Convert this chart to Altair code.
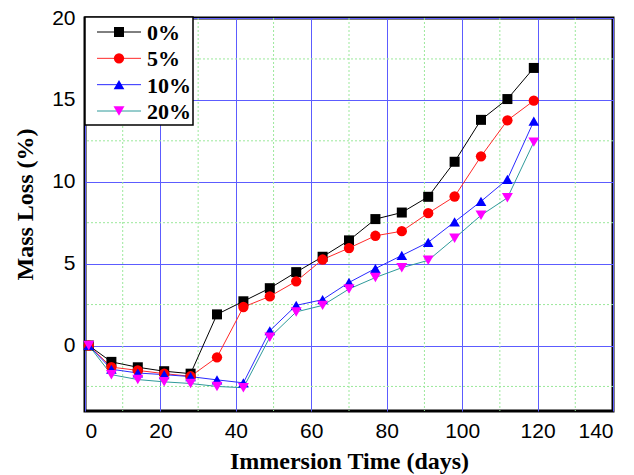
import altair as alt
import pandas as pd

# Immersion time (days) and mass loss (%) for each replacement level
days = [1, 7, 14, 21, 28, 35, 42, 49, 56, 63, 70, 77, 84, 91, 98, 105, 112, 119]
loss_0 = [0, -1.0, -1.33, -1.57, -1.72, 1.9, 2.7, 3.5, 4.48, 5.42, 6.42, 7.72,
          8.12, 9.08, 11.22, 13.78, 15.05, 16.95]
loss_5 = [0, -1.32, -1.52, -1.72, -1.88, -0.72, 2.35, 3.0, 3.92, 5.25, 5.95, 6.7,
          6.98, 8.08, 9.1, 11.55, 13.75, 14.95]
loss_10 = [0, -1.45, -1.68, -1.78, -1.9, -2.1, -2.28, 0.9, 2.45, 2.8, 3.85, 4.7,
           5.5, 6.3, 7.55, 8.8, 10.15, 13.7]
loss_20 = [0, -1.78, -2.08, -2.22, -2.32, -2.5, -2.58, 0.5, 2.05, 2.45, 3.45, 4.15,
           4.75, 5.2, 6.55, 7.95, 9.02, 12.42]

series = ["0%", "5%", "10%", "20%"]
line_colors = ["#000000", "#ff2a2a", "#2a2aff", "#2f9a9a"]
marker_colors = ["#000000", "#ff0000", "#0000ff", "#ff00ff"]
marker_shapes = ["square", "circle", "triangle-up", "triangle-down"]
marker_sizes = [100, 120, 200, 200]

x_ticks = [0, 20, 40, 60, 80, 100, 120, 140]
y_ticks = [0, 5, 10, 15, 20]
x_minor = [10, 30, 50, 70, 90, 110, 130]
y_minor = [-2.5, 2.5, 7.5, 12.5, 17.5]

rows = []
for name, vals in zip(series, [loss_0, loss_5, loss_10, loss_20]):
    for d, v in zip(days, vals):
        rows.append({"day": d, "loss": v, "series": name})
df = pd.DataFrame(rows)

TICK_FONT = "Liberation Sans"
TITLE_FONT = "Liberation Serif"

x_enc = alt.X(
    "day:Q",
    scale=alt.Scale(domain=[0, 140], nice=False),
    axis=alt.Axis(values=x_ticks, title="Immersion Time (days)", grid=True,
                  gridColor="#5c5cff", gridWidth=1, domain=False, ticks=False,
                  labelFont=TICK_FONT, labelFontSize=21, labelColor="black",
                  labelPadding=9, titleFont=TITLE_FONT, titleFontSize=24,
                  titleFontWeight="bold", titleColor="black", titlePadding=8),
)
y_enc = alt.Y(
    "loss:Q",
    scale=alt.Scale(domain=[-4, 20], nice=False, zero=False),
    axis=alt.Axis(values=y_ticks, title="Mass Loss (%)", grid=True,
                  gridColor="#5c5cff", gridWidth=1, domain=False, ticks=False,
                  labelFont=TICK_FONT, labelFontSize=21, labelColor="black",
                  labelPadding=10, titleFont=TITLE_FONT, titleFontSize=24,
                  titleFontWeight="bold", titleColor="black", titlePadding=14,
                  titleY=186),
)

color_enc = alt.Color("series:N", scale=alt.Scale(domain=series, range=line_colors),
                      legend=None)
fill_enc = alt.Fill("series:N", scale=alt.Scale(domain=series, range=marker_colors),
                    legend=None)
shape_enc = alt.Shape("series:N", scale=alt.Scale(domain=series, range=marker_shapes),
                      legend=None)
size_enc = alt.Size("series:O", scale=alt.Scale(domain=series, range=marker_sizes),
                    legend=None)

# Dotted minor grid
minor_v = alt.Chart(pd.DataFrame({"day": x_minor})).mark_rule(
    color="#9be89b", strokeWidth=1, strokeDash=[2, 2]
).encode(x=x_enc)
minor_h = alt.Chart(pd.DataFrame({"loss": y_minor})).mark_rule(
    color="#9be89b", strokeWidth=1, strokeDash=[2, 2]
).encode(y=y_enc)

lines = alt.Chart(df).mark_line(strokeWidth=1).encode(
    x=x_enc, y=y_enc, color=color_enc, detail="series:N"
)
points = alt.Chart(df).mark_point(filled=True, opacity=1, strokeWidth=0).encode(
    x=x_enc, y=y_enc, fill=fill_enc, shape=shape_enc, size=size_enc
)

main = alt.layer(minor_v, minor_h, lines, points)

# Boxed legend in the upper-left corner of the plot
leg_df = pd.DataFrame({"series": series})
leg_y = alt.Y("series:N", scale=alt.Scale(type="point", domain=series, range=[14, 93],
                                          padding=0), axis=None)

box = alt.Chart(pd.DataFrame({"b": [0]})).mark_rect(
    fill="white", stroke="black", strokeWidth=1.5
).encode(x=alt.value(0), x2=alt.value(108), y=alt.value(-1), y2=alt.value(107))
leg_lines = alt.Chart(leg_df).mark_rule(strokeWidth=1).encode(
    x=alt.value(12), x2=alt.value(56), y=leg_y, color=color_enc
)
leg_points = alt.Chart(leg_df).mark_point(filled=True, opacity=1,
                                          strokeWidth=0).encode(
    x=alt.value(34), y=leg_y, fill=fill_enc, shape=shape_enc, size=size_enc
)
leg_text = alt.Chart(leg_df).mark_text(
    align="left", baseline="middle", font=TITLE_FONT, fontSize=22,
    fontWeight="bold", color="black", dy=1
).encode(x=alt.value(62), y=leg_y, text="series:N")

legend = alt.layer(box, leg_lines, leg_points, leg_text)

chart = alt.layer(main, legend).resolve_scale(y="independent").properties(
    width=528,
    height=393,
    autosize=alt.AutoSizeParams(type="none"),
    padding={"left": 85, "top": 18, "right": 21, "bottom": 64},
    background="white",
).configure_view(stroke="black", strokeWidth=3)

chart.save("out.html", embed_options={"renderer": "svg", "actions": False})
